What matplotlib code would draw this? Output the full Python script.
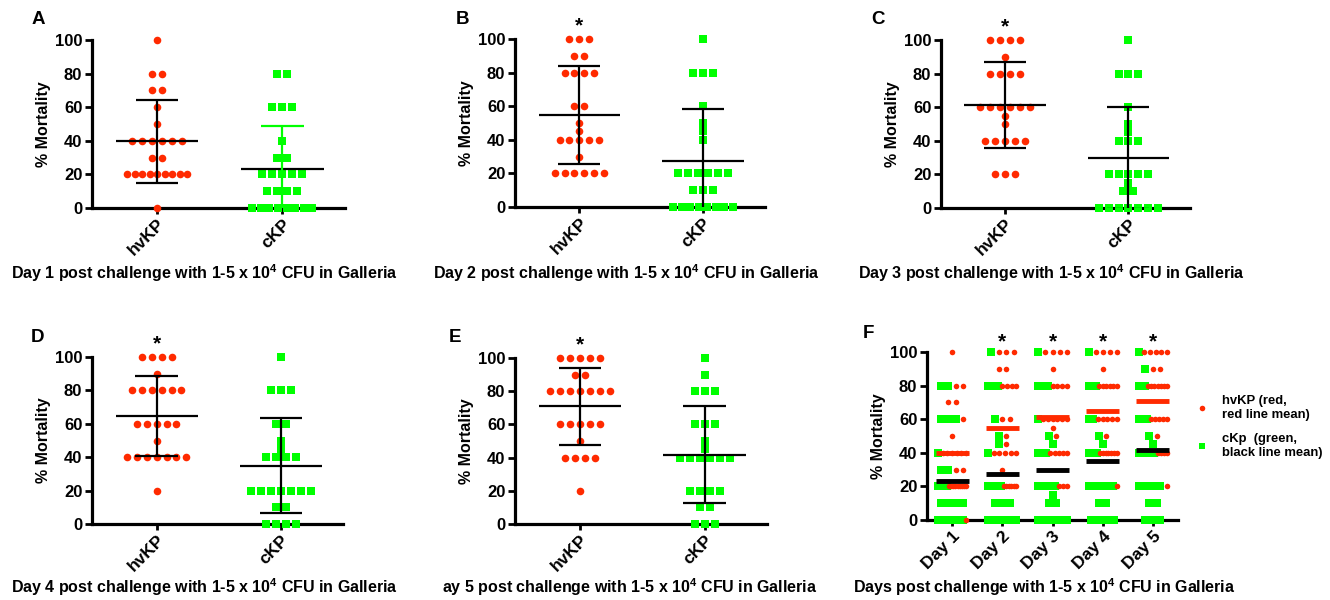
import numpy as np
import matplotlib
matplotlib.use('Agg')
import matplotlib.pyplot as plt
from matplotlib.lines import Line2D

plt.rcParams['font.family'] = ['Liberation Sans', 'DejaVu Sans']
plt.rcParams['font.weight'] = 'bold'
plt.rcParams['mathtext.fontset'] = 'custom'
plt.rcParams['mathtext.rm'] = 'Liberation Sans'
plt.rcParams['mathtext.bf'] = 'Liberation Sans:bold'

# --- dados: % mortalidade por cepa (25 cepas por grupo) ---
hv_day1 = [100, 80, 80, 70, 70, 60, 50, 40, 40, 40, 40, 40, 40, 30, 30,
           20, 20, 20, 20, 20, 20, 20, 20, 20, 0]
ck_day1 = [80, 80, 60, 60, 60, 40, 30, 30, 20, 20, 20, 20, 20,
           10, 10, 10, 10, 0, 0, 0, 0, 0, 0, 0, 0]
hv_day2 = [100, 100, 100, 90, 90, 80, 80, 80, 80, 60, 60, 50, 45,
           40, 40, 40, 40, 40, 30, 20, 20, 20, 20, 20, 20]
ck_day2 = [100, 80, 80, 80, 60, 50, 45, 40, 20, 20, 20, 20, 20, 20,
           10, 10, 10, 0, 0, 0, 0, 0, 0, 0, 0]
hv_day3 = [100, 100, 100, 100, 90, 80, 80, 80, 80, 60, 60, 60, 60, 60, 60,
           55, 50, 40, 40, 40, 40, 40, 20, 20, 20]
ck_day3 = [100, 80, 80, 80, 60, 50, 45, 40, 40, 40, 20, 20, 20, 20, 20,
           15, 10, 10, 0, 0, 0, 0, 0, 0, 0]
hv_day4 = [100, 100, 100, 100, 90, 80, 80, 80, 80, 80, 80, 60, 60, 60, 60, 60,
           50, 40, 40, 40, 40, 40, 40, 40, 20]
ck_day4 = [100, 80, 80, 80, 60, 60, 50, 45, 40, 40, 40, 40,
           20, 20, 20, 20, 20, 20, 20, 10, 10, 0, 0, 0, 0]
hv_day5 = [100, 100, 100, 100, 100, 90, 90, 80, 80, 80, 80, 80, 80, 80,
           60, 60, 60, 60, 60, 50, 40, 40, 40, 40, 20]
ck_day5 = [100, 90, 80, 80, 80, 60, 60, 60, 50, 45, 40, 40, 40, 40, 40, 40,
           20, 20, 20, 20, 10, 10, 0, 0, 0]

hv_dias = [hv_day1, hv_day2, hv_day3, hv_day4, hv_day5]
ck_dias = [ck_day1, ck_day2, ck_day3, ck_day4, ck_day5]

grupos = ['hvKP', 'cKP']
dias = ['Day 1', 'Day 2', 'Day 3', 'Day 4', 'Day 5']
letras = ['A', 'B', 'C', 'D', 'E', 'F']
signif_dia = [False, True, True, True, True]

VERMELHO = '#FF2A00'
VERDE = '#00FF00'
W, H = 1330, 600


def deslocamentos(vals, passo, largura_max):
    vals = np.asarray(vals, float)
    offs = np.zeros(len(vals))
    for v in np.unique(vals):
        idx = np.where(vals == v)[0]
        n = len(idx)
        if n > 1:
            s = min(passo, largura_max / (n - 1))
            offs[idx] = (np.arange(n) - (n - 1) / 2) * s
    return offs


def cria_eixo(fig, x, y, w, h):
    ax = fig.add_axes([x / W, 1 - (y + h) / H, w / W, h / H])
    ax.spines['top'].set_visible(False)
    ax.spines['right'].set_visible(False)
    ax.spines['left'].set_linewidth(2.3)
    ax.spines['bottom'].set_linewidth(2.3)
    ax.set_ylim(0, 100)
    ax.set_yticks(range(0, 101, 20))
    ax.tick_params(axis='y', length=5, width=2, labelsize=12, pad=2)
    ax.tick_params(axis='x', length=4, width=2, labelsize=12.5, pad=2)
    ax.set_ylabel('% Mortality', fontsize=11.5, fontweight='bold', labelpad=3)
    return ax


fig = plt.figure(figsize=(13.3, 6), dpi=100)

caixas = [(92, 40, 253, 168), (515, 39, 250, 168), (941, 40, 249, 168),
          (92, 357, 251, 167), (515, 358, 252, 166)]
letras_pos = [(38, 20), (462, 20), (878, 19), (38, 338), (455, 338), (868, 333)]
legendas_x = [(204, 273, 'center'), (626, 273, 'center'), (1051, 273, 'center'),
              (204, 587, 'center'), (442, 587, 'left'), (853, 587, 'left')]
cor_erro_ck = [VERDE, 'k', 'k', 'k', 'k']

for i in range(5):
    ax = cria_eixo(fig, *caixas[i])
    ax.set_xlim(-0.52, 1.5)
    hv = hv_dias[i]
    ck = ck_dias[i]
    ax.scatter(0 + deslocamentos(hv, 0.08, 0.48), hv, s=30, marker='o',
               color=VERMELHO, linewidths=0, clip_on=False, zorder=3)
    ax.scatter(1 + deslocamentos(ck, 0.08, 0.48), ck, s=30, marker='s',
               color=VERDE, linewidths=0, clip_on=False, zorder=3)
    for x, vals, cor in [(0, hv, 'k'), (1, ck, cor_erro_ck[i])]:
        m = np.mean(vals)
        sd = np.std(vals, ddof=1)
        ax.hlines(m, x - 0.33, x + 0.33, color='k', lw=1.6, zorder=4)
        ax.vlines(x, max(m - sd, 0), m + sd, color=cor, lw=1.6, zorder=4)
        ax.hlines([m - sd, m + sd], x - 0.17, x + 0.17, color=cor, lw=1.6, zorder=4)
    ax.set_xticks([0, 1])
    ax.set_xticklabels(grupos, rotation=45, ha='right', rotation_mode='anchor')
    if signif_dia[i]:
        ax.text(0, 108, '*', ha='center', va='center', fontsize=15, clip_on=False)

# --- painel F: todos os dias ---
axf = cria_eixo(fig, 927, 352, 251, 168)
axf.set_xlim(-0.5, 4.5)
for d in range(5):
    hv = hv_dias[d]
    ck = ck_dias[d]
    todos = ck + hv
    offs = deslocamentos(todos, 0.15, 0.56)
    n_ck = len(ck)
    axf.scatter(d + offs[:n_ck], ck, s=26, marker='s', color=VERDE,
                linewidths=0, clip_on=False, zorder=3)
    axf.scatter(d + offs[n_ck:], hv, s=16, marker='o', color=VERMELHO,
                linewidths=0, clip_on=False, zorder=3)
    axf.hlines(np.mean(hv), d - 0.33, d + 0.33, color=VERMELHO, lw=3.5, zorder=4)
    axf.hlines(np.mean(ck), d - 0.33, d + 0.33, color='k', lw=3.5, zorder=4)
    if signif_dia[d]:
        axf.text(d, 106, '*', ha='center', va='center', fontsize=15, clip_on=False)
axf.set_xticks(range(5))
axf.set_xticklabels(dias, rotation=45, ha='right', rotation_mode='anchor')

alcas = [Line2D([], [], marker='o', color=VERMELHO, ls='', ms=4, mew=0),
         Line2D([], [], marker='s', color=VERDE, ls='', ms=5, mew=0)]
axf.legend(alcas, ['hvKP (red,\nred line mean)', 'cKp  (green,\nblack line mean)'],
           loc='center left', bbox_to_anchor=(1.055, 0.555), frameon=False,
           fontsize=9.4, handlelength=0.8, handletextpad=1.1, labelspacing=0.95,
           borderaxespad=0)

for letra, (x, y) in zip(letras, letras_pos):
    fig.text(x / W, 1 - y / H, letra, fontsize=13.5, fontweight='bold',
             ha='center', va='center')

textos = ['Day 1 post challenge with 1-5 x 10$^{\\mathbf{4}}$ CFU in Galleria',
          'Day 2 post challenge with 1-5 x 10$^{\\mathbf{4}}$ CFU in Galleria',
          'Day 3 post challenge with 1-5 x 10$^{\\mathbf{4}}$ CFU in Galleria',
          'Day 4 post challenge with 1-5 x 10$^{\\mathbf{4}}$ CFU in Galleria',
          'ay 5 post challenge with 1-5 x 10$^{\\mathbf{4}}$ CFU in Galleria',
          'Days post challenge with 1-5 x 10$^{\\mathbf{4}}$ CFU in Galleria']
for (x, y, ha), t in zip(legendas_x, textos):
    fig.text(x / W, 1 - y / H, t, fontsize=11.5, fontweight='bold',
             ha=ha, va='center')

fig.savefig('out.png', dpi=100)
